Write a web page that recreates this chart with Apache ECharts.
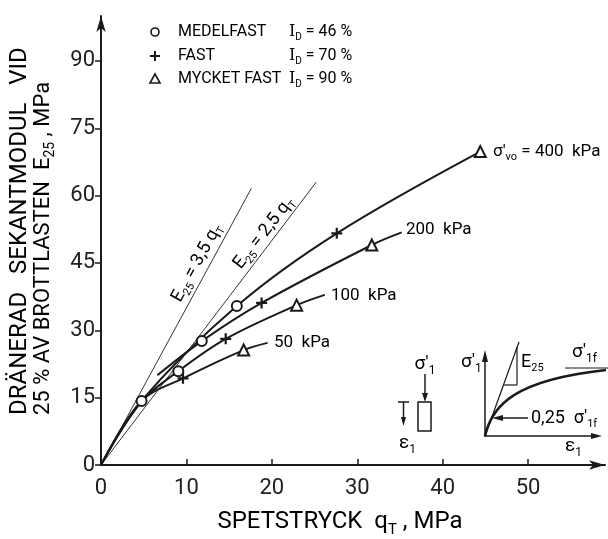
<!DOCTYPE html>
<html>
<head>
<meta charset="utf-8">
<script src="https://cdn.jsdelivr.net/npm/echarts@6/dist/echarts.min.js"></script>
<style>
  html, body { margin: 0; padding: 0; background: #fff; }
  #chart { width: 608px; height: 539px; }
</style>
</head>
<body>
<div id="chart"></div>
<script>
// qT (MPa) / E25 (MPa), one set per sigma'vo level
var qt400 = [0, 4.6, 15.9, 27.6, 44.4];
var e400  = [0, 14.0, 35.4, 51.6, 69.8];
var mk400 = ['', '', 'O', '+', 'A'];

var qt200 = [6.6, 11.8, 18.8, 31.7, 35.2];
var e200  = [20.0, 27.6, 36.1, 49.0, 51.8];
var mk200 = ['', 'O', '+', 'A', ''];

var qt100 = [0, 4.7, 9.05, 14.6, 22.9, 26.2];
var e100  = [0, 14.0, 20.9, 28.1, 35.6, 37.9];
var mk100 = ['', '', 'O', '+', 'A', ''];

var qt50 = [0, 4.75, 9.6, 16.7, 19.5];
var e50  = [0, 14.25, 19.3, 25.6, 27.2];
var mk50 = ['', 'O', '+', 'A', ''];

// E25 = k * qT guide lines
var refK   = [3.5, 2.5];
var refEnd = [17.6, 25.2];

var xMax = 59, xStep = 10;
var yMax = 100, yStep = 15;

var INK = '#1a1a1a';
var FONT = 'Roboto, "DejaVu Sans", sans-serif';
var PLUS = 'path://M4,0H6V4H10V6H6V10H4V6H0V4H4Z';

function markSym(m) {
  if (m === 'O') return { symbol: 'emptyCircle', symbolSize: 10 };
  if (m === '+') return { symbol: PLUS, symbolSize: 11 };
  if (m === 'A') return { symbol: 'emptyTriangle', symbolSize: 11 };
  return { symbol: 'none', symbolSize: 0 };
}

function curve(name, xs, ys, ms) {
  var data = xs.map(function (x, i) {
    var s = markSym(ms[i]);
    return { value: [x, ys[i]], symbol: s.symbol, symbolSize: s.symbolSize };
  });
  return {
    name: name, type: 'line', data: data, smooth: 0.35,
    symbol: 'none', showSymbol: true, z: 3,
    lineStyle: { color: INK, width: 2 },
    itemStyle: { color: INK, borderWidth: 1.6 },
    emphasis: { disabled: true }
  };
}

var series = [
  curve('400 kPa', qt400, e400, mk400),
  curve('200 kPa', qt200, e200, mk200),
  curve('100 kPa', qt100, e100, mk100),
  curve('50 kPa', qt50, e50, mk50)
];
refK.forEach(function (k, i) {
  series.push({
    type: 'line', data: [[0, 0], [refEnd[i], k * refEnd[i]]],
    symbol: 'none', z: 2,
    lineStyle: { color: '#333', width: 1 },
    emphasis: { disabled: true }
  });
});

// rich text styles used by the annotations
function rich(size) {
  return {
    a: { fontSize: size, fontFamily: FONT, color: INK, lineHeight: Math.round(size * 1.3) },
    b: { fontSize: Math.round(size * 0.62), fontFamily: FONT, color: INK, verticalAlign: 'bottom' },
    i: { fontSize: size, fontFamily: '"DejaVu Serif", serif', color: INK, lineHeight: Math.round(size * 1.3) }
  };
}
function txt(x, y, text, size, align, rot) {
  return {
    type: 'text', x: x, y: y, rotation: rot || 0, z: 10,
    style: { text: text, rich: rich(size), textAlign: align || 'left', textVerticalAlign: 'middle' }
  };
}
function seg(x1, y1, x2, y2, w) {
  return { type: 'line', z: 10, shape: { x1: x1, y1: y1, x2: x2, y2: y2 },
    style: { stroke: INK, lineWidth: w || 1.5 } };
}
function head(pts) {
  return { type: 'polygon', z: 10, shape: { points: pts }, style: { fill: INK } };
}

var deg = Math.PI / 180;
var graphic = [
  // legend
  { type: 'circle', z: 10, shape: { cx: 155, cy: 32, r: 4 }, style: { fill: '#fff', stroke: INK, lineWidth: 1.6 } },
  txt(178, 32, '{a|MEDELFAST}', 16),
  txt(289, 32, '{i|I}{b|D}{a| = 46 %}', 16),
  seg(150, 56, 160, 56, 2), seg(155, 51, 155, 61, 2),
  txt(178, 56, '{a|FAST}', 16),
  txt(289, 56, '{i|I}{b|D}{a| = 70 %}', 16),
  { type: 'polygon', z: 10, shape: { points: [[155, 74], [150, 83], [160, 83]] }, style: { fill: '#fff', stroke: INK, lineWidth: 1.6 } },
  txt(178, 79, '{a|MYCKET FAST}', 16),
  txt(289, 79, '{i|I}{b|D}{a| = 90 %}', 16),

  // axis titles
  txt(20, 415, '{a|DRÄNERAD   SEKANTMODUL   VID}', 24, 'left', 90 * deg),
  txt(43, 415, '{a|25 % AV BROTTLASTEN  E}{b|25}{a| , MPa}', 22, 'left', 90 * deg),
  txt(340, 522, '{a|SPETSTRYCK  q}{b|T}{a| , MPa}', 24, 'center'),

  // curve labels
  txt(493, 152, '{a|σ′}{b|vo}{a| = 400  kPa}', 17),
  txt(406, 230, '{a|200  kPa}', 17),
  txt(331, 296, '{a|100  kPa}', 17),
  txt(274, 343, '{a|50  kPa}', 17),

  // guide line labels
  txt(197, 263, '{a|E}{b|25}{a| = 3,5 q}{b|T}', 18, 'center', 61.3 * deg),
  txt(264, 233, '{a|E}{b|25}{a| = 2,5 q}{b|T}', 18, 'center', 51.9 * deg),

  // specimen sketch
  { type: 'rect', z: 10, shape: { x: 418, y: 402, width: 13, height: 29 }, style: { fill: 'none', stroke: INK, lineWidth: 1.5 } },
  seg(425, 374, 425, 395), head([[422, 393], [428, 393], [425, 402]]),
  txt(425, 364, '{a|σ′}{b|1}', 19, 'center'),
  seg(398, 402, 409, 402), seg(403.5, 402, 403.5, 419), head([[401, 417], [406, 417], [403.5, 426]]),
  txt(399, 443, '{a|ε}{b|1}', 19),

  // small stress-strain sketch
  seg(485, 437, 485, 358), head([[482, 362], [488, 362], [485, 350]]),
  seg(485, 436, 594, 436), head([[591, 433], [591, 439], [602, 436]]),
  txt(461, 362, '{a|σ′}{b|1}', 19),
  txt(565, 446, '{a|ε}{b|1}', 19),
  { type: 'bezierCurve', z: 10, shape: { x1: 485, y1: 436, cpx1: 492, cpy1: 405, cpx2: 515, cpy2: 380, x2: 606, y2: 370 },
    style: { stroke: INK, lineWidth: 2.5, fill: 'none' } },
  seg(485, 436, 519, 342, 1.2),
  seg(517, 347, 517, 385, 1.2), seg(503, 385, 517, 385, 1.2),
  txt(521, 362, '{a|E}{b|25}', 18),
  txt(572, 352, '{a|σ′}{b|1f}', 19),
  seg(565, 368, 608, 368, 1.2),
  seg(528, 418, 500, 418), head([[503, 415], [503, 421], [492, 418]]),
  txt(531, 418, '{a|0,25  σ′}{b|1f}', 18)
];

var chart = echarts.init(document.getElementById('chart'), null, { renderer: 'canvas' });
chart.setOption({
  backgroundColor: '#fff',
  animation: false,
  textStyle: { fontFamily: FONT },
  grid: { left: 101, top: 16, width: 504, height: 449, containLabel: false },
  xAxis: {
    type: 'value', min: 0, max: xMax, interval: xStep,
    axisLine: { symbol: ['none', 'arrow'], symbolSize: [7, 16], lineStyle: { color: INK, width: 2 } },
    axisTick: { inside: true, length: 6, lineStyle: { color: INK, width: 1.5 } },
    axisLabel: { color: '#222', fontSize: 22, margin: 12, showMaxLabel: false },
    splitLine: { show: false }
  },
  yAxis: {
    type: 'value', min: 0, max: yMax, interval: yStep,
    axisLine: { show: true, symbol: ['none', 'arrow'], symbolSize: [7, 16], lineStyle: { color: INK, width: 2 } },
    axisTick: { show: true, length: 6, lineStyle: { color: INK, width: 1.5 } },
    axisLabel: { color: '#222', fontSize: 22, margin: 6, showMaxLabel: false },
    splitLine: { show: false }
  },
  series: series,
  graphic: graphic
});
</script>
</body>
</html>
